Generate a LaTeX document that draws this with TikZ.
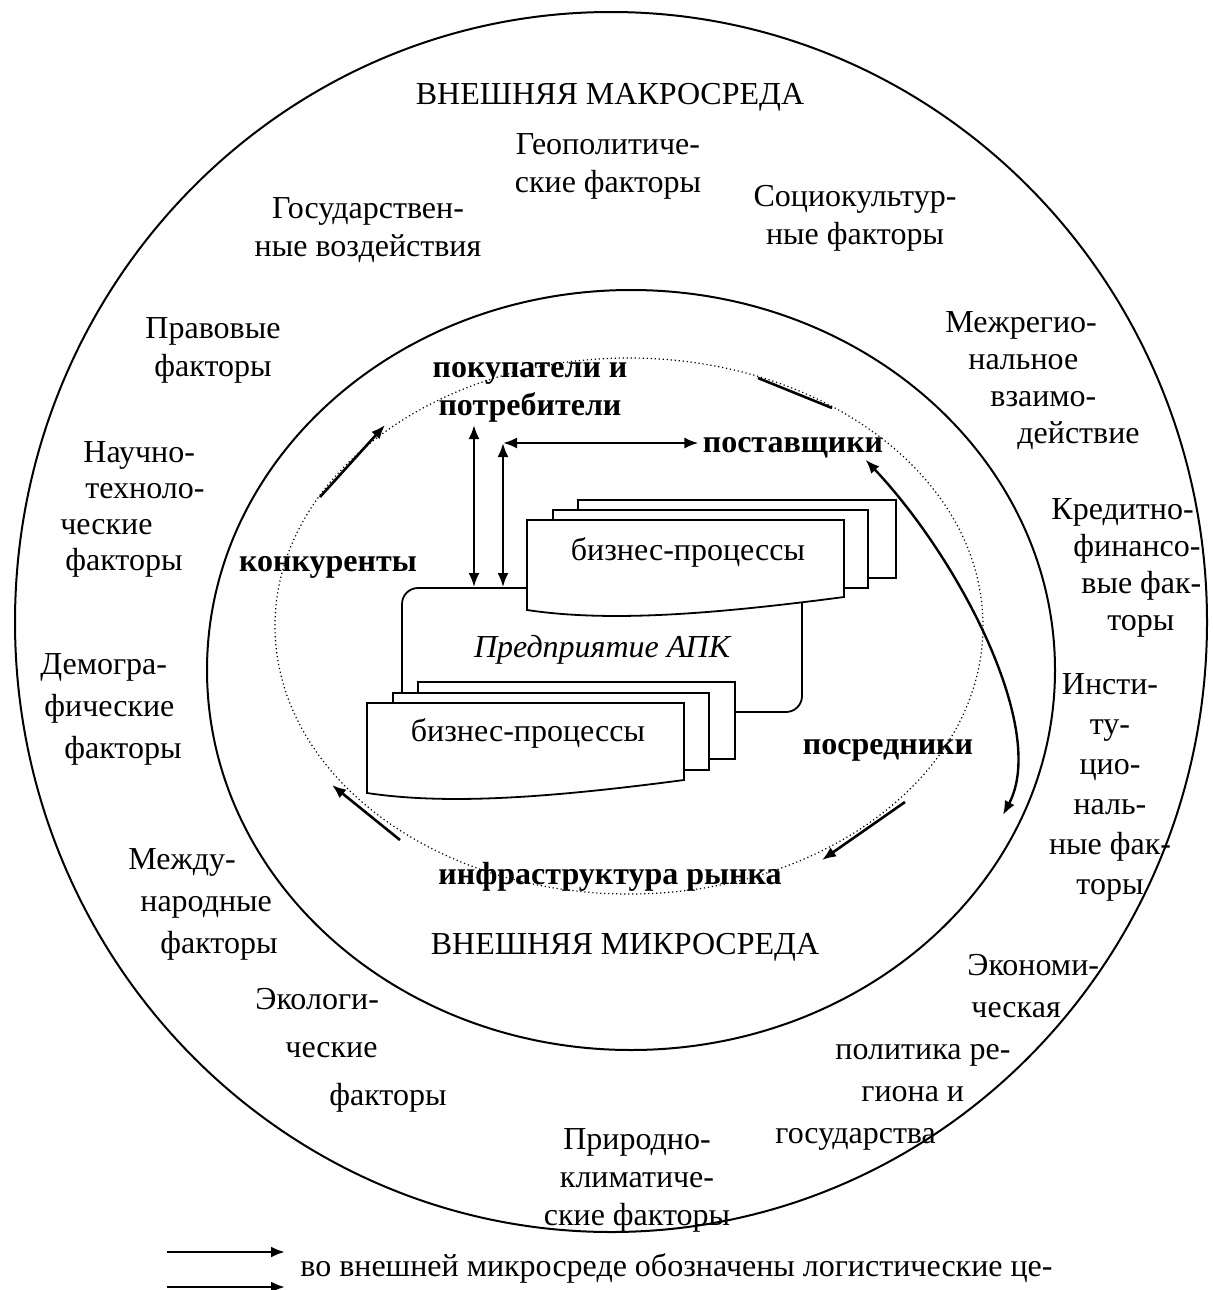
\documentclass[tikz,border=0pt]{standalone}
\usepackage{fontspec}
\setmainfont{Liberation Serif}
\usetikzlibrary{arrows.meta,calc}

\begin{document}
\begin{tikzpicture}[
    x=0.5pt, y=-0.5pt,
    font=\fontsize{16}{19}\selectfont,
    txt/.style={align=center, inner sep=0pt},
    ltxt/.style={align=left, inner sep=0pt, anchor=base west, font=\fontsize{16}{21}\selectfont},
    lbl/.style={align=center, inner sep=2pt, font=\fontsize{16}{19}\selectfont\bfseries},
    env/.style={line width=1pt},
    dots/.style={line width=0.6pt, dash pattern=on 0.6pt off 1.4pt},
    arr/.style={line width=1.3pt, -{Latex[length=7pt,width=5.5pt]}},
    dbl/.style={line width=1.2pt, {Latex[length=7pt,width=5.5pt]}-{Latex[length=7pt,width=5.5pt]}},
    docbox/.style={draw, line width=0.9pt, fill=white},
    ent/.style={draw, line width=0.9pt, fill=white, rounded corners=8pt, minimum width=200pt, minimum height=62pt, font=\fontsize{16}{19}\selectfont\itshape},
  ]
  \useasboundingbox (0,0) rectangle (1212,1290);

  % environments
  \draw[env] (611,622) ellipse [x radius=298pt, y radius=305pt];
  \draw[env] (631,670) ellipse [x radius=212pt, y radius=190pt];
  \draw[dots] (629,626) ellipse [x radius=177pt, y radius=134pt];

  % macro factors (base anchor = last line)
  \node[txt] (macro) at (610,97) {ВНЕШНЯЯ МАКРОСРЕДА};
  \node[txt] (geo) at (608,166) {Геополитиче-\\ские факторы};
  \node[txt] (soc) at (855,218) {Социокультур-\\ные факторы};
  \node[txt] (gov) at (368,230) {Государствен-\\ные воздействия};
  \node[txt] (law) at (213,350) {Правовые\\факторы};
  \node[ltxt, font=\fontsize{16}{18}\selectfont] (tech) at (60,570) {\hspace*{11.5pt}Научно-\\\hspace*{12.5pt}техноло-\\ческие\\\hspace*{2.5pt}факторы};
  \node[ltxt] (demo) at (40,758) {Демогра-\\\hspace*{2pt}фические\\\hspace*{12pt}факторы};
  \node[ltxt] (intl) at (128,953) {Между-\\\hspace*{6pt}народные\\\hspace*{16pt}факторы};
  \node[ltxt, font=\fontsize{16}{24}\selectfont] (ecol) at (255,1105) {Экологи-\\\hspace*{15pt}ческие\\\hspace*{37pt}факторы};
  \node[txt] (nat) at (637,1180) {Природно-\\климатиче-\\ские факторы};
  \node[ltxt] (econ) at (775,1143) {\hspace*{96pt}Экономи-\\\hspace*{98pt}ческая\\\hspace*{30pt}политика ре-\\\hspace*{43pt}гиона и\\государства};
  \node[txt, font=\fontsize{16}{20}\selectfont] (inst) at (1110,787) {Инсти-\\ту-\\цио-\\наль-\\ные фак-\\торы};
  \node[ltxt, font=\fontsize{16}{18.5}\selectfont] (cred) at (1051,630) {Кредитно-\\\hspace*{11pt}финансо-\\\hspace*{15pt}вые фак-\\\hspace*{28pt}торы};
  \node[ltxt, font=\fontsize{16}{18.5}\selectfont] (reg) at (945,443) {Межрегио-\\\hspace*{11.5pt}нальное\\\hspace*{22.5pt}взаимо-\\\hspace*{36pt}действие};

  % micro environment
  \node[txt] (micro) at (625,947) {ВНЕШНЯЯ МИКРОСРЕДА};
  \node[lbl] (buyers) at (530,392) {покупатели и\\потребители};
  \node[lbl] (suppl) at (793,448) {поставщики};
  \node[lbl] (rivals) at (328,567) {конкуренты};
  \node[lbl] (agents) at (888,750) {посредники};
  \node[lbl] (infra) at (610,877) {инфраструктура рынка};

  % enterprise and business processes
  \node[ent] (ent) at (602,650) {Предприятие АПК};
  \draw[docbox] (578,500) rectangle (896,578);
  \draw[docbox] (553,510) rectangle (868,588);
  \draw[docbox] (527,520) -- (844,520) -- (844,597)
    .. controls (707,615) and (607,622) .. (527,610) -- cycle;
  \node[txt] (bp1) at (688,552) {бизнес-процессы};
  \draw[docbox] (418,682) rectangle (735,759);
  \draw[docbox] (393,693) rectangle (709,770);
  \draw[docbox] (367,703) -- (684,703) -- (684,780)
    .. controls (547,798) and (447,805) .. (367,793) -- cycle;
  \node[txt] (bp2) at (528,733) {бизнес-процессы};

  % links of the enterprise
  \coordinate (a1) at (474,425);
  \coordinate (jn) at (503,443);
  \draw[dbl] (a1) -- (a1 |- ent.north);
  \draw[dbl] (jn) -- (jn |- ent.north);
  \draw[dbl] (jn) -- (suppl.west |- jn);
  \coordinate (cv) at (1003,815);
  \draw[dbl] ($(suppl.south east)+(-22,-3)$) .. controls (960,560) and (1048,730) .. (cv);

  % circulation along the micro environment
  \coordinate (c1) at (320,497);
  \coordinate (c2) at (385,425);
  \coordinate (c3) at (758,378);
  \coordinate (c4) at (832,408);
  \coordinate (c5) at (905,802);
  \coordinate (c6) at (822,860);
  \coordinate (c7) at (400,840);
  \coordinate (c8) at (332,785);
  \draw[arr] (c1) -- (c2);
  \draw[line width=1.3pt] (c3) -- (c4);
  \draw[arr] (c5) -- (c6);
  \draw[arr] (c7) -- (c8);

  % legend
  \coordinate (l1) at (167,1252);
  \coordinate (l2) at (285,1252);
  \coordinate (l3) at (167,1287);
  \coordinate (l4) at (285,1287);
  \draw[arr] (l1) -- (l2);
  \draw[arr] (l3) -- (l4);
  \node[txt, anchor=west] (note) at (300,1268) {во внешней микросреде обозначены логистические це-};
\end{tikzpicture}
\end{document}
